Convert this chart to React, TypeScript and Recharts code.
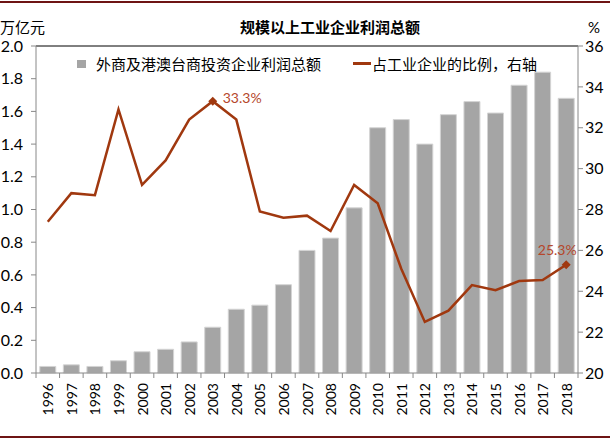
import React from "react";
import {
	Bar,
	ComposedChart,
	LabelList,
	Line,
	ReferenceLine,
	XAxis,
	YAxis,
} from "recharts";

const years = [
	"1996", "1997", "1998", "1999", "2000", "2001", "2002", "2003",
	"2004", "2005", "2006", "2007", "2008", "2009", "2010", "2011",
	"2012", "2013", "2014", "2015", "2016", "2017", "2018",
];
// 外商及港澳台商投资企业利润总额, 万亿元
const profit = [
	0.04, 0.05, 0.04, 0.075, 0.13, 0.145, 0.19, 0.28, 0.39, 0.415, 0.54, 0.75,
	0.825, 1.01, 1.5, 1.55, 1.4, 1.58, 1.66, 1.59, 1.76, 1.84, 1.68,
];
// 占工业企业的比例, %
const share = [
	27.4, 28.8, 28.7, 32.9, 29.2, 30.4, 32.4, 33.3, 32.4, 27.9, 27.6, 27.7,
	26.95, 29.2, 28.3, 25.1, 22.5, 23.05, 24.3, 24.05, 24.5, 24.55, 25.3,
];
const leftTicks = [0, 0.2, 0.4, 0.6, 0.8, 1.0, 1.2, 1.4, 1.6, 1.8, 2.0];
const rightTicks = [20, 22, 24, 26, 28, 30, 32, 34, 36];
const labelledYears = ["2003", "2018"];

const data = years.map((year, i) => ({
	year,
	profit: profit[i],
	share: share[i],
}));

const BAR = "#a5a5a5";
const LINE = "#a0380f";
const LABEL = "#b5472b";
const AXIS = "#888888";
const MAROON = "#6e1414";
const NUM_FONT = "Lato, 'Liberation Sans', sans-serif";
const CJK_FONT = "'Noto Sans CJK SC', sans-serif";

function YearTick(props: any) {
	const { x, y, payload, index, visibleTicksCount } = props;
	const half = payload.offset ?? 0;
	return (
		<g>
			<line x1={x - half} x2={x - half} y1={y} y2={y + 5} stroke={AXIS} />
			{index === visibleTicksCount - 1 && (
				<line x1={x + half} x2={x + half} y1={y} y2={y + 5} stroke={AXIS} />
			)}
			<text
				x={x}
				y={y + 10}
				transform={`rotate(-90 ${x} ${y + 10})`}
				textAnchor="end"
				dominantBaseline="central"
				fontFamily={NUM_FONT}
				fontSize={14}
				fill="#000"
			>
				{payload.value}
			</text>
		</g>
	);
}

function Diamond(props: any) {
	const { cx, cy, payload, index } = props;
	if (!labelledYears.includes(payload.year)) return <g key={index} />;
	const r = 4.5;
	return (
		<polygon
			key={index}
			points={`${cx},${cy - r} ${cx + r},${cy} ${cx},${cy + r} ${cx - r},${cy}`}
			fill={LINE}
		/>
	);
}

function ShareLabel(props: any) {
	const { x, y, value, index } = props;
	if (!labelledYears.includes(years[index])) return null;
	const last = index === years.length - 1;
	return (
		<text
			x={last ? x - 9 : x + 10}
			y={last ? y - 15 : y - 4}
			textAnchor={last ? "middle" : "start"}
			dominantBaseline="central"
			fontFamily={NUM_FONT}
			fontSize={14}
			fill={LABEL}
		>
			{`${Number(value).toFixed(1)}%`}
		</text>
	);
}

export default function App() {
	return (
		<div
			style={{
				position: "absolute",
				left: 0,
				top: 0,
				width: 610,
				height: 440,
				background: "#fff",
				overflow: "hidden",
			}}
		>
			<div style={{ position: "absolute", left: 0, top: 1, width: 610, height: 2, background: MAROON }} />
			<div style={{ position: "absolute", left: 0, top: 436, width: 610, height: 2, background: MAROON }} />
			<div style={{ position: "absolute", left: 0, top: 19, fontFamily: CJK_FONT, fontSize: 15, lineHeight: "16px" }}>
				万亿元
			</div>
			<div
				style={{
					position: "absolute",
					left: 240,
					top: 19,
					fontFamily: CJK_FONT,
					fontSize: 15,
					fontWeight: "bold",
					lineHeight: "16px",
				}}
			>
				规模以上工业企业利润总额
			</div>
			<div style={{ position: "absolute", left: 588, top: 19, fontFamily: NUM_FONT, fontSize: 15, lineHeight: "16px" }}>
				%
			</div>

			<ComposedChart
				width={610}
				height={440}
				data={data}
				margin={{ top: 46, right: 0, bottom: 7, left: 0 }}
				barCategoryGap="16%"
			>
				<XAxis
					dataKey="year"
					height={60}
					tickLine={false}
					tickSize={0}
					tickMargin={0}
					interval={0}
					axisLine={{ stroke: AXIS }}
					tick={<YearTick />}
				/>
				<YAxis
					yAxisId="left"
					width={36}
					domain={[0, 2]}
					ticks={leftTicks}
					tickFormatter={(v) => Number(v).toFixed(1)}
					tickSize={5}
					tickMargin={8}
					axisLine={{ stroke: AXIS }}
					tickLine={{ stroke: AXIS }}
					tick={{ fontFamily: NUM_FONT, fontSize: 16, fill: "#000" }}
				/>
				<YAxis
					yAxisId="right"
					orientation="right"
					width={32}
					domain={[20, 36]}
					ticks={rightTicks}
					tickSize={5}
					tickMargin={2}
					axisLine={{ stroke: AXIS }}
					tickLine={{ stroke: AXIS }}
					tick={{ fontFamily: NUM_FONT, fontSize: 16, fill: "#000" }}
				/>
				<ReferenceLine yAxisId="left" y={2} stroke="#000" strokeWidth={1} />
				<Bar
					yAxisId="left"
					dataKey="profit"
					fill={BAR}
					stroke="#d4d4d4"
					strokeWidth={1}
					isAnimationActive={false}
				/>
				<Line
					yAxisId="right"
					type="linear"
					dataKey="share"
					stroke={LINE}
					strokeWidth={2.5}
					dot={Diamond}
					activeDot={false}
					isAnimationActive={false}
				>
					<LabelList dataKey="share" content={ShareLabel} />
				</Line>
			</ComposedChart>

			<div style={{ position: "absolute", left: 77, top: 60, width: 9, height: 8, background: BAR }} />
			<div style={{ position: "absolute", left: 96, top: 54, fontFamily: CJK_FONT, fontSize: 15, lineHeight: "20px" }}>
				外商及港澳台商投资企业利润总额
			</div>
			<div style={{ position: "absolute", left: 353, top: 62, width: 18, height: 3, background: LINE }} />
			<div style={{ position: "absolute", left: 372, top: 54, fontFamily: CJK_FONT, fontSize: 15, lineHeight: "20px" }}>
				占工业企业的比例，右轴
			</div>
		</div>
	);
}
